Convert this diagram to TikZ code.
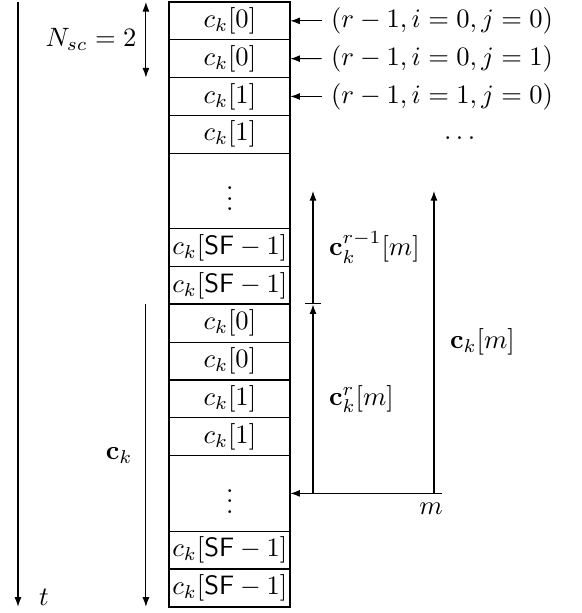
\documentclass[tikz,border=0pt]{standalone}
\usetikzlibrary{arrows.meta}
\tikzset{
  frame row/.style={draw, line width=0.4pt, anchor=north west,
    minimum width=1.6cm, minimum height=0.5cm, inner xsep=0.5pt,
    inner ysep=0pt, outer sep=0pt},
  frame edge/.style={draw, line width=0.8pt},
  span arrow/.style={-{Latex[length=3.6pt,width=2.6pt]}, line width=0.4pt},
  both arrow/.style={{Latex[length=3.6pt,width=2.6pt]}-{Latex[length=3.6pt,width=2.6pt]},
    line width=0.4pt},
  bar arrow/.style={{Bar[width=6pt]}-{Latex[length=3.6pt,width=2.6pt]},
    line width=0.4pt}
}

\begin{document}
\begin{tikzpicture}[x=1cm,y=1cm]
  \useasboundingbox (0,0.026) rectangle (7.685,-8.082);

  % two blocks of spreading chips
  \foreach \blk/\top in {a/0,b/-4}{
    \foreach \i/\off/\h/\lab in {0/0/0.5/{$c_k[0]$}, 1/0.5/0.5/{$c_k[0]$},
        2/1/0.5/{$c_k[1]$}, 3/1.5/0.5/{$c_k[1]$}, 4/2/1/{$\vdots$},
        5/3/0.5/{$c_k[\mathsf{SF}-1]$}, 6/3.5/0.5/{$c_k[\mathsf{SF}-1]$}}
      \node[frame row, minimum height=\h cm] (\blk\i) at (2.24,\top-\off) {\lab};
  }
  \draw[frame edge] (a0.north west) rectangle (b6.south east);
  \draw[frame edge] (a6.south west) -- (a6.south east);

  % time axis
  \coordinate (ttop) at (0.238,0);
  \coordinate (tbot) at (0.238,-8);
  \draw[span arrow] (ttop) -- (tbot);
  \node (tlab) at (0.58,-7.88) {$t$};

  % spans on the left
  \coordinate (nsctop) at (1.93,0);
  \coordinate (nscbot) at (1.93,-1);
  \draw[both arrow] (nsctop) -- node[left] (nsc) {$N_{sc}=2$} (nscbot);
  \coordinate (cktop) at (1.93,-4);
  \coordinate (ckbot) at (1.93,-8);
  \draw[span arrow] (cktop) -- node[left=1.5pt] (ck) {$\mathbf{c}_k$} (ckbot);

  % index labels
  \node[anchor=west] (ij0) at (4.255,-0.25) {$(r-1,i=0,j=0)$};
  \node[anchor=west] (ij1) at (4.255,-0.75) {$(r-1,i=0,j=1)$};
  \node[anchor=west] (ij2) at (4.255,-1.25) {$(r-1,i=1,j=0)$};
  \node (ijdots) at (6.08,-1.80) {$\dots$};
  \draw[span arrow] (ij0.west) -- (a0.east);
  \draw[span arrow] (ij1.west) -- (a1.east);
  \draw[span arrow] (ij2.west) -- (a2.east);

  % window of length m
  \coordinate (prevtop) at (4.14,-2.5);
  \coordinate (prevbot) at (4.14,-4);
  \coordinate (curbot) at (4.14,-6.5);
  \coordinate (fulltop) at (5.74,-2.5);
  \coordinate (fullbot) at (5.74,-6.5);
  \coordinate (mend) at (5.85,-6.5);
  \draw[bar arrow] (prevbot) -- node[right=2.5pt] (prevlab) {$\mathbf{c}_k^{r-1}[m]$} (prevtop);
  \draw[span arrow] (curbot) -- node[right=2.5pt] (curlab) {$\mathbf{c}_k^{r}[m]$} (prevbot);
  \draw[span arrow] (fullbot) -- node[right=2.5pt] (fulllab) {$\mathbf{c}_k[m]$} (fulltop);
  \draw[span arrow] (mend) -- (b4.east);
  \node[below] (mlab) at (5.70,-6.5) {$m$};
\end{tikzpicture}
\end{document}
